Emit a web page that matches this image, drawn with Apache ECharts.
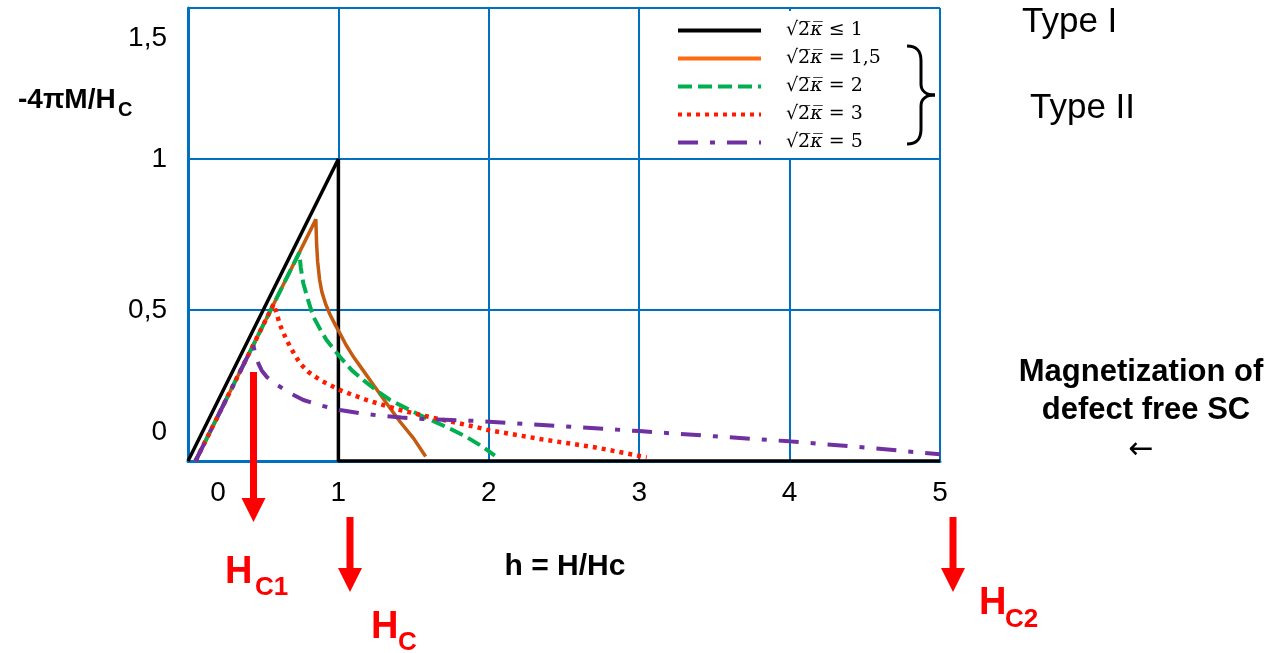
<!DOCTYPE html>
<html><head><meta charset="utf-8">
<script src="https://cdn.jsdelivr.net/npm/echarts@6/dist/echarts.min.js"></script>
<style>html,body{margin:0;padding:0;background:#fff}#c{width:1280px;height:653px}</style>
</head><body><div id="c"></div>
<script>
// ---- data ----
const seriesNames = ['k1', 'k15', 'k2', 'k3', 'k5'];
const legendLabels = ['\u2264 1', '= 1,5', '= 2', '= 3', '= 5'];
const xTicks = [0, 1, 2, 3, 4, 5];
const yTicks = [0, 0.5, 1, 1.5];
const kappaLe1 = [[0,0],[1,1],[1,0],[5,0]];
const kappa15 = [[0.05,0],[0.85,0.80],[0.855,0.72],[0.862,0.66],[0.875,0.60],[0.89,0.56],[0.915,0.52],[0.944,0.485],[0.98,0.45],[1.01,0.423],[1.05,0.385],[1.1,0.345],[1.15,0.31],[1.21,0.268],[1.32,0.191],[1.41,0.13],[1.5,0.075],[1.58,0.015]];
const kappa2 = [[0.05,0],[0.74,0.69],[0.75,0.64],[0.767,0.588],[0.8,0.53],[0.833,0.478],[0.88,0.435],[0.922,0.40],[1.01,0.345],[1.09,0.30],[1.166,0.268],[1.25,0.235],[1.343,0.202],[1.45,0.175],[1.55,0.15],[1.65,0.128],[1.75,0.105],[1.85,0.08],[1.95,0.05],[2.04,0.018]];
const kappa3 = [[0.05,0],[0.57,0.52],[0.589,0.489],[0.612,0.45],[0.656,0.40],[0.7,0.36],[0.745,0.323],[0.8,0.295],[0.878,0.268],[0.95,0.25],[1.01,0.235],[1.1,0.218],[1.188,0.202],[1.3,0.185],[1.41,0.169],[1.55,0.152],[1.676,0.138],[1.8,0.125],[1.92,0.112],[2.0,0.102],[2.35,0.072],[2.71,0.045],[3.05,0.012]];
const kappa5 = [[0.05,0],[0.434,0.384],[0.45,0.35],[0.468,0.323],[0.49,0.30],[0.523,0.279],[0.56,0.262],[0.612,0.246],[0.69,0.222],[0.767,0.202],[0.88,0.184],[1.01,0.169],[1.15,0.158],[1.277,0.15],[1.42,0.144],[1.565,0.139],[1.75,0.136],[1.94,0.132],[2.5,0.115],[3.0,0.099],[3.5,0.082],[4.0,0.065],[4.5,0.045],[5.0,0.022]];

const BLUE = '#0070C0';
const SANS = 'Liberation Sans, Arial, sans-serif';
const chart = echarts.init(document.getElementById('c'), null, {renderer: 'canvas'});

function txt(x, y, text, size, opts) {
  opts = opts || {};
  return {type: 'text', x: x, y: y, z: 10, style: {
    text: text, fontSize: size, fontFamily: opts.family || SANS, fontWeight: opts.bold ? 'bold' : 'normal',
    fill: opts.color || '#000', align: opts.align || 'left', verticalAlign: 'middle'}};
}
function arrow(cx, y0, y1, y2) {
  return [
    {type: 'rect', z: 10, shape: {x: cx - 3.5, y: y0, width: 7, height: y1 - y0}, style: {fill: '#FF0000'}},
    {type: 'polygon', z: 10, shape: {points: [[cx - 12, y1], [cx + 12, y1], [cx, y2]]}, style: {fill: '#FF0000'}}
  ];
}
function bez(x1, y1, c1x, c1y, c2x, c2y, x2, y2) {
  return {type: 'bezierCurve', z: 10, shape: {x1: x1, y1: y1, cpx1: c1x, cpy1: c1y, cpx2: c2x, cpy2: c2y, x2: x2, y2: y2},
    style: {fill: null, stroke: '#000', lineWidth: 3}};
}
function seg(x1, y1, x2, y2) {
  return {type: 'line', z: 10, shape: {x1: x1, y1: y1, x2: x2, y2: y2}, style: {stroke: '#000', lineWidth: 3}};
}

const COLORS = ['#000000', '#C55A11', '#00B050', '#FF1A00', '#7030A0'];
const DASHES = ['solid', 'solid', [14, 6], [4, 5], [20, 12, 5, 12]];
const WIDTHS = [3.5, 3.5, 4, 4.5, 4];
const LEGEND_COLORS = ['#000000', '#FF6A13', '#00B050', '#FF1A00', '#7030A0'];
const DATA = [kappaLe1, kappa15, kappa2, kappa3, kappa5];

const option = {
  backgroundColor: '#fff',
  animation: false,
  grid: {left: 188, top: 8, width: 752, height: 453, containLabel: false},
  xAxis: {
    type: 'value', min: 0, max: 5, interval: 1,
    axisLine: {show: true, lineStyle: {color: BLUE, width: 3}},
    axisTick: {show: false},
    splitLine: {show: true, lineStyle: {color: BLUE, width: 2}},
    axisLabel: {
      margin: 18, color: '#000', fontSize: 28, fontFamily: SANS,
      formatter: v => v === 0 ? '{z|0}' : String(v),
      rich: {z: {fontSize: 28, fontFamily: SANS, color: '#000', padding: [0, 0, 0, 60]}}
    }
  },
  yAxis: {
    type: 'value', min: 0, max: 1.5, interval: 0.5,
    axisLine: {show: true, lineStyle: {color: BLUE, width: 3}},
    axisTick: {show: false},
    splitLine: {show: true, lineStyle: {color: BLUE, width: 2}},
    axisLabel: {
      margin: 21, color: '#000', fontSize: 28, fontFamily: SANS,
      formatter: v => {
        const s = String(v).replace('.', ',');
        if (v === 0) return '{lo|' + s + '}';
        if (v === 1.5) return '{hi|' + s + '}';
        return s;
      },
      rich: {
        lo: {fontSize: 28, fontFamily: SANS, color: '#000', padding: [0, 0, 58, 0]},
        hi: {fontSize: 28, fontFamily: SANS, color: '#000', padding: [60, 0, 0, 0]}
      }
    }
  },
  legend: {
    orient: 'vertical', left: 660, top: 11,
    padding: [10, 58, 6, 16],
    backgroundColor: '#fff',
    itemWidth: 83, itemHeight: 16, itemGap: 9,
    selectedMode: false,
    itemStyle: {opacity: 0},
    textStyle: {
      fontFamily: 'DejaVu Serif', fontSize: 19, color: '#000', padding: [0, 0, 0, 20],
      rich: {
        r: {fontFamily: 'DejaVu Serif', fontSize: 19, color: '#000'},
        k: {fontFamily: 'DejaVu Serif', fontSize: 19, fontStyle: 'italic', color: '#000'}
      }
    },
    formatter: name => {
      const i = seriesNames.indexOf(name);
      return '{r|\u221A2\u0305}{k|\u03BA\u0305}{r| ' + legendLabels[i] + '}';
    },
    data: seriesNames.map((n, i) => ({
      name: n,
      itemStyle: {opacity: 0},
      lineStyle: {color: LEGEND_COLORS[i], width: 4, type: DASHES[i]}
    }))
  },
  series: seriesNames.map((n, i) => ({
    name: n, type: 'line', data: DATA[i], symbol: 'none', z: i === 0 ? 2 : 3,
    lineStyle: {color: COLORS[i], width: WIDTHS[i], type: DASHES[i]},
    itemStyle: {color: COLORS[i]}
  })),
  graphic: [].concat(
    [
      txt(18, 100, '-4\u03C0M/H', 28, {bold: true}),
      txt(118, 110, 'C', 20, {bold: true}),
      txt(565, 567, 'h = H/Hc', 30, {bold: true, align: 'center'}),
      txt(1022, 22, 'Type I', 35),
      txt(1030, 108, 'Type II', 35),
      txt(1141, 372, 'Magnetization of', 31, {bold: true, align: 'center'}),
      txt(1146, 410, 'defect free SC', 31, {bold: true, align: 'center'}),
      txt(1141, 450, '\u2190', 30, {align: 'center', family: 'DejaVu Sans'}),
      bez(907, 46, 916, 46, 921, 50, 921, 61),
      seg(921, 61, 921, 84),
      bez(921, 84, 921, 91, 926, 95, 935, 95),
      bez(935, 95, 926, 95, 921, 99, 921, 106),
      seg(921, 106, 921, 129),
      bez(921, 129, 921, 140, 916, 144, 907, 144),
      txt(225, 573, 'H', 38, {bold: true, color: '#FF0000'}),
      txt(255, 588, 'C1', 26, {bold: true, color: '#FF0000'}),
      txt(371, 628, 'H', 38, {bold: true, color: '#FF0000'}),
      txt(398, 643, 'C', 26, {bold: true, color: '#FF0000'}),
      txt(979, 604, 'H', 38, {bold: true, color: '#FF0000'}),
      txt(1005, 620, 'C2', 26, {bold: true, color: '#FF0000'})
    ],
    arrow(253.5, 372, 498, 522),
    arrow(350, 517, 568, 592),
    arrow(953, 517, 568, 592)
  )
};
chart.setOption(option);
</script>
</body></html>
